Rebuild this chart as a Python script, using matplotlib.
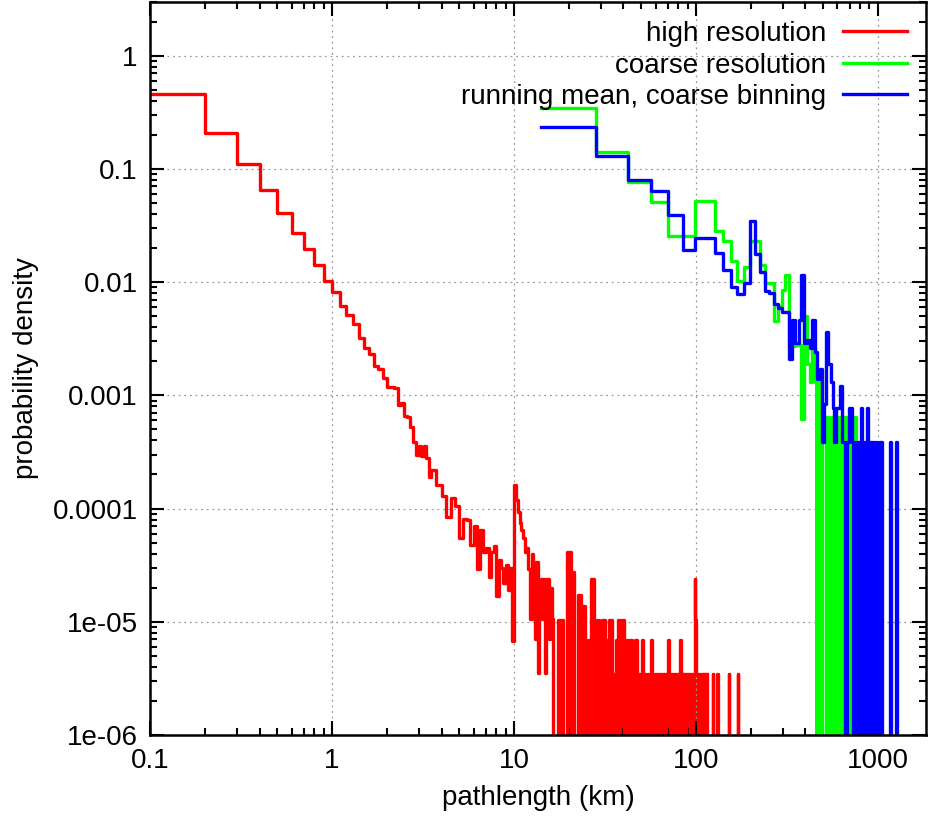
import numpy as np
import matplotlib.pyplot as plt

plt.rcParams['font.family'] = ['Liberation Sans', 'DejaVu Sans']

# high resolution, 0.1 km bins from 0.1 to 3.5 km
red_fine = [0.455, 0.208, 0.110, 0.065, 0.041, 0.0273, 0.0195, 0.0143, 0.0102,
            0.0081, 0.0061, 0.0051, 0.0043, 0.0032, 0.0026, 0.0023, 0.0018, 0.0017,
            0.00142, 0.00118, 0.00118, 0.00115, 0.00083, 0.00085, 0.00066, 0.00065,
            0.00053, 0.00039, 0.00030, 0.00036, 0.00029, 0.00036, 0.00028, 0.00019]
# 0.25 km bins from 3.5 to 16.5 km
red_mid = [2.2e-4, 1.6e-4, 1.3e-4, 8.5e-5, 1.25e-4, 1.05e-4, 5.5e-5, 8.1e-5, 8e-5,
           4.8e-5, 7e-5, 2.9e-5, 6.5e-5, 4.1e-5, 4.5e-5, 2.5e-5, 4.1e-5, 4.7e-5,
           1.7e-5, 3.5e-5, 3e-5, 2.2e-5, 3.2e-5, 1.9e-5, 3e-5, 6.8e-6, 1.6e-4,
           1.2e-4, 9.4e-5, 7.5e-5, 6.5e-5, 5.5e-5, 4.1e-5, 4.5e-5, 2.9e-5, 1.05e-5,
           4e-5, 2.4e-5, 7e-6, 3.4e-5, 3.5e-6, 2e-5, 2.4e-5, 1.05e-5, 2.4e-5, 3.5e-6,
           1.7e-5, 2.4e-5, 7e-6, 1.05e-5, 2e-5, 1.05e-5]
# counts in 1 km bins from 16.5 to 115.5 km (one count = 3.44e-6)
red_tail_counts = [0, 3, 0, 12, 8, 0, 5, 4, 1, 2, 7, 1, 3, 0, 3, 2, 1, 3, 1, 0,
                   2, 3, 1, 3, 0, 2, 1, 2, 1, 0, 2, 1, 1, 0, 2, 1, 1, 0, 1, 1,
                   2, 1, 0, 1, 1, 1, 0, 1, 1, 1, 1, 0, 1, 1, 2, 1, 1, 0, 1, 1,
                   1, 1, 0, 1, 1, 2, 1, 1, 0, 1, 1, 0, 1, 1, 1, 1, 0, 1, 1, 1,
                   1, 1, 7, 3, 1, 1, 1, 1, 0, 1, 0, 1, 1, 0, 1, 0, 1, 0, 1]
red_count = 3.44e-6
red_sparse_km = [123, 131, 152, 169]

# coarse bins, 14.1 km wide starting at 14.1 km
coarse_width = 14.1
green_vals = [0.342, 0.141, 0.0764, 0.051, 0.0253, 0.0253, 0.0518, 0.052, 0.0282,
              0.0229, 0.0155, 0.0102, 0.0137, 0.0229, 0.0229, 0.0143, 0.0098, 0.0098,
              0.0045, 0.0061, 0.0086, 0.0115, 0.0027, 0.0027, 0.0028, 0.0028, 0.00062,
              0.0050, 0.0019, 0.0013, 0.0026,
              0.0013, 0, 0.0013, 0, 0, 0.00064, 0, 0.00064, 0.00064, 0, 0.00064, 0,
              0.00064, 0, 0, 0.00064, 0, 0, 0.00064, 0, 0, 0.00064, 0]
blue_vals = [0.234, 0.129, 0.080, 0.064, 0.0394, 0.0192, 0.0244, 0.0244, 0.018,
             0.0127, 0.0090, 0.0078, 0.0098, 0.035, 0.0177, 0.0122, 0.0083, 0.0080,
             0.0064, 0.0059, 0.0055, 0.0055, 0.0021, 0.0046, 0.0029, 0.0046, 0.0115,
             0.0029, 0.0031, 0.0026, 0.0046, 0.0024, 0.0014, 0.0017, 0.00039, 0.00084,
             0.0036, 0.0019, 0.0013, 0.00078, 0.00039, 0.00078, 0.00078, 0.0012,
             0.00039, 0.00039, 0, 0.00039, 0.00078, 0.00078, 0.00039, 0,
             0.00039, 0, 0.00039, 0, 0.00078, 0.00039, 0, 0.00039, 0, 0.00078, 0,
             0.00039, 0, 0.00039, 0.00039, 0, 0.00039, 0, 0, 0.00039, 0, 0.00039, 0,
             0, 0, 0, 0, 0, 0, 0, 0.00039, 0, 0, 0, 0, 0, 0.00039, 0]

tiny = 1e-9
lw = 2.4


def step_xy(edges, vals):
    v = np.where(np.asarray(vals, float) > 0, vals, tiny)
    return edges, np.append(v, v[-1])


fig = plt.figure(figsize=(9.32, 8.24), dpi=100)
ax = fig.add_axes([0.161, 0.108, 0.833, 0.89])

# red: assemble edges of the three segments
e1 = 0.1 + 0.1 * np.arange(len(red_fine) + 1)
e2 = 3.5 + 0.25 * np.arange(len(red_mid) + 1)
e3 = 16.5 + 1.0 * np.arange(len(red_tail_counts) + 1)
red_edges = np.concatenate([e1[:-1], e2[:-1], e3])
red_vals = list(red_fine) + list(red_mid) + [c * red_count for c in red_tail_counts]
x, y = step_xy(red_edges, red_vals)
ax.step(x, y, where='post', color='#ff0000', lw=lw, label='high resolution')
# the dense 0.1 km bins of the tail fill solid in the original
tx, ty = step_xy(e3, [c * red_count for c in red_tail_counts])
ax.fill_between(tx, tiny, ty, step='post', color='#ff0000', lw=0)
for km in red_sparse_km:
    ax.step([km - 0.5, km + 0.5, km + 1], [tiny, red_count, tiny], where='post',
            color='#ff0000', lw=lw)

ge = coarse_width * np.arange(1, len(green_vals) + 2)
x, y = step_xy(ge, green_vals)
ax.step(x, y, where='post', color='#00ff00', lw=lw, label='coarse resolution')
ax.fill_between(x[31:], tiny, y[31:], step='post', color='#00ff00', lw=0)

be = coarse_width * np.arange(1, len(blue_vals) + 2)
x, y = step_xy(be, blue_vals)
ax.step(x, y, where='post', color='#0000ff', lw=lw, label='running mean, coarse binning')

ax.set_xscale('log')
ax.set_yscale('log')
ax.set_xlim(0.1, 1850)
ax.set_ylim(1e-6, 3)
ax.set_xticks([0.1, 1, 10, 100, 1000])
ax.set_xticklabels(['0.1', '1', '10', '100', '1000'])
ax.set_yticks([1e-6, 1e-5, 1e-4, 1e-3, 1e-2, 0.1, 1])
ax.set_yticklabels(['1e-06', '1e-05', '0.0001', '0.001', '0.01', '0.1', '1'])
ax.tick_params(which='both', direction='in', top=True, right=True, labelsize=20,
               width=1.5, pad=9)
ax.tick_params(which='major', length=10)
ax.tick_params(which='minor', length=5)
for s in ax.spines.values():
    s.set_linewidth(1.8)
ax.grid(True, which='major', color='#999999', linestyle=(0, (1.5, 3)), lw=0.9)
ax.set_xlabel('pathlength (km)', fontsize=20, labelpad=8)
ax.set_ylabel('probability density', fontsize=20, labelpad=10)
ax.legend(loc='upper right', frameon=False, markerfirst=False, fontsize=20,
          handlelength=2.3, labelspacing=0.2, borderaxespad=0.3, handletextpad=0.6)

plt.savefig('out.png', dpi=100)
